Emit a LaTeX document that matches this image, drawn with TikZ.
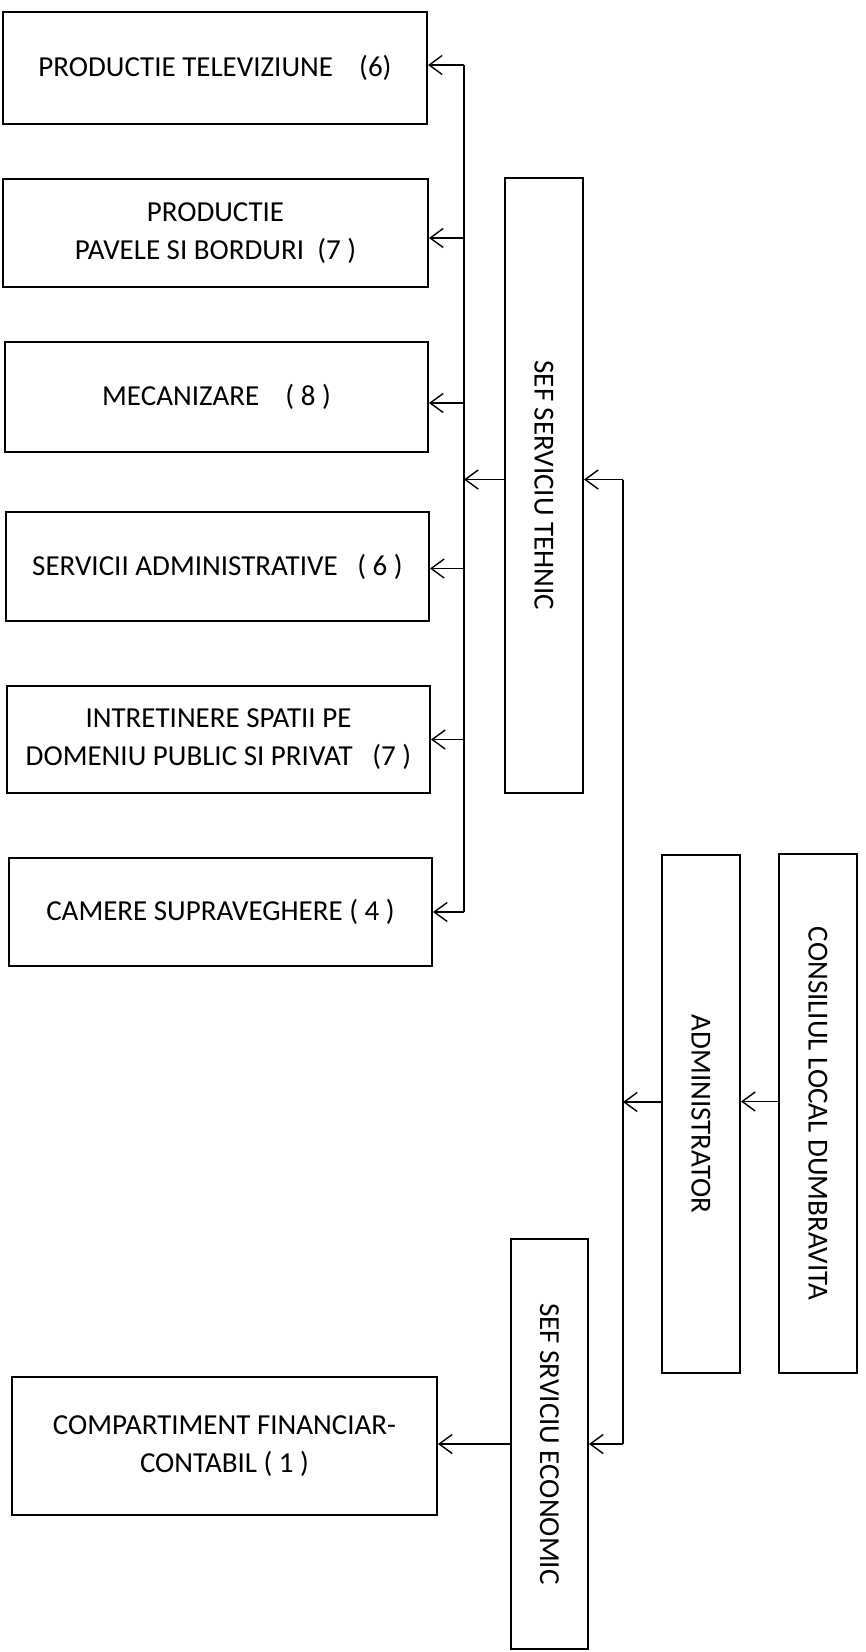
\documentclass[tikz,border=0pt]{standalone}
\usepackage{fontspec}
\setmainfont{Carlito}
\usetikzlibrary{arrows.meta}
\begin{document}
\begin{tikzpicture}[x=0.5pt,y=-0.5pt,
  box/.style={draw, line width=1pt, inner sep=0pt, align=center,
    font=\fontsize{14.5}{19}\selectfont},
  conn/.style={line width=0.7pt},
  arr/.style={conn, -{Straight Barb[length=6.5pt,width=9.5pt]}}]
\fill[white] (0,0) rectangle (866,1652);
\useasboundingbox (0,0) rectangle (866,1652);
% left boxes
\node[box, minimum width=212pt, minimum height=56pt] (b1) at (215,68) {PRODUCTIE TELEVIZIUNE~~~~(6)};
\node[box, minimum width=212.5pt, minimum height=54pt] (b2) at (215.5,233) {PRODUCTIE\\PAVELE SI BORDURI~~(7~)};
\node[box, minimum width=211.5pt, minimum height=55pt] (b3) at (216.5,397) {MECANIZARE~~~~(~8~)};
\node[box, minimum width=211.5pt, minimum height=54.5pt] (b4) at (217.5,566.5) {SERVICII ADMINISTRATIVE~~~(~6~)};
\node[box, minimum width=211.5pt, minimum height=53.5pt] (b5) at (218.5,739.5) {INTRETINERE SPATII PE\\DOMENIU PUBLIC SI PRIVAT~~~(7~)};
\node[box, minimum width=211.5pt, minimum height=54pt] (b6) at (220.5,912) {CAMERE SUPRAVEGHERE (~4~)};
\node[box, minimum width=212.5pt, minimum height=69pt] (b7) at (224.5,1446) {COMPARTIMENT FINANCIAR-\\CONTABIL (~1~)};
% vertical boxes
\node[box, minimum width=39pt, minimum height=307.5pt] (ST) at (544,485.5) {\rotatebox{-90}{SEF SERVICIU TEHNIC}};
\node[box, minimum width=38.5pt, minimum height=205pt] (SE) at (549.5,1444) {\rotatebox{-90}{SEF SRVICIU ECONOMIC}};
\node[box, minimum width=39pt, minimum height=259pt] (AD) at (701,1114) {\rotatebox{-90}{ADMINISTRATOR}};
\node[box, minimum width=39pt, minimum height=259.5pt] (CL) at (818,1113.5) {\rotatebox{-90}{CONSILIUL LOCAL DUMBRAVITA}};
% bus coordinates
\coordinate (L) at (464,0);
\coordinate (R) at (623,0);
% left bus
\draw[conn] ([yshift=1.5pt]b1.east -| L) -- (b6.east -| L);
\draw[arr] ([yshift=1.5pt]b1.east -| L) -- ([yshift=1.5pt]b1.east);
\draw[arr] ([yshift=-2.5pt]b2.east -| L) -- ([yshift=-2.5pt]b2.east);
\draw[arr] ([yshift=-3pt]b3.east -| L) -- ([yshift=-3pt]b3.east);
\draw[arr] ([yshift=-1pt]b4.east -| L) -- ([yshift=-1pt]b4.east);
\draw[arr] (b5.east -| L) -- (b5.east);
\draw[arr] (b6.east -| L) -- (b6.east);
\draw[arr] ([yshift=3pt]ST.west) -- ([yshift=3pt]ST.west -| L);
% right bus
\draw[conn] ([yshift=3pt]ST.east -| R) -- (SE.east -| R);
\draw[arr] ([yshift=3pt]ST.east -| R) -- ([yshift=3pt]ST.east);
\draw[arr] (SE.east -| R) -- (SE.east);
\draw[arr] ([yshift=6pt]AD.west) -- ([yshift=6pt]AD.west -| R);
\draw[arr] ([yshift=6pt]CL.west) -- ([yshift=6pt]CL.west -| AD.east);
\draw[arr] (SE.west) -- (SE.west -| b7.east);
\end{tikzpicture}
\end{document}
